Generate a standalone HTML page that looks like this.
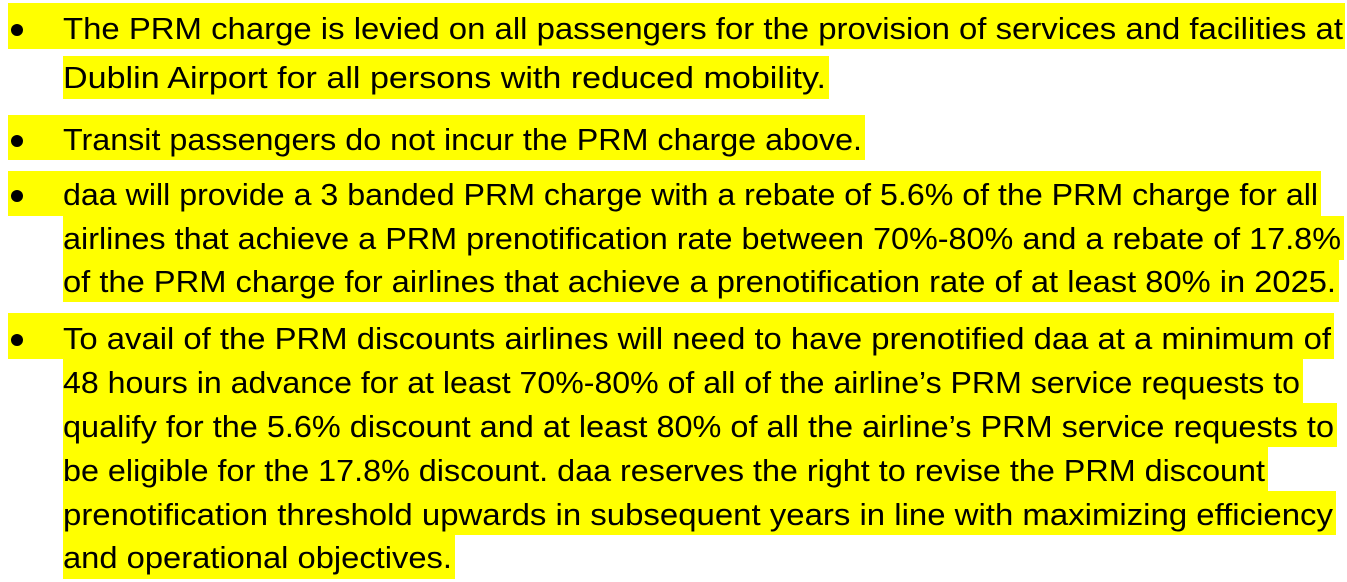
<!DOCTYPE html>
<html><head><meta charset="utf-8"><style>
html,body{margin:0;padding:0;background:#fff;width:1347px;height:582px;overflow:hidden}
text{font-family:"Liberation Sans",sans-serif;font-size:31px;fill:#000}
</style></head><body>
<svg width="1347" height="582" xmlns="http://www.w3.org/2000/svg">
<g fill="#ffff00">
<rect x="8" y="3" width="1337" height="46"/>
<rect x="63" y="56" width="766" height="43"/>
<rect x="8" y="115" width="857" height="45"/>
<rect x="8" y="171" width="1313" height="45"/>
<rect x="63" y="216" width="1281" height="44"/>
<rect x="63" y="260" width="1276" height="42"/>
<rect x="8" y="313" width="1326" height="46"/>
<rect x="63" y="359" width="1240" height="44"/>
<rect x="63" y="403" width="1274" height="44"/>
<rect x="63" y="447" width="1205" height="44"/>
<rect x="63" y="491" width="1273" height="44"/>
<rect x="63" y="535" width="392" height="44"/>
</g>
<g fill="#000">
<circle cx="17" cy="30" r="6"/>
<circle cx="17" cy="141" r="6"/>
<circle cx="17" cy="196" r="6"/>
<circle cx="17" cy="340" r="6"/>
</g>
<g>
<text x="63" y="39" textLength="1280" lengthAdjust="spacingAndGlyphs">The PRM charge is levied on all passengers for the provision of services and facilities at</text>
<text x="63" y="88" textLength="763" lengthAdjust="spacingAndGlyphs">Dublin Airport for all persons with reduced mobility.</text>
<text x="63" y="150" textLength="799" lengthAdjust="spacingAndGlyphs">Transit passengers do not incur the PRM charge above.</text>
<text x="63" y="205" textLength="1255" lengthAdjust="spacingAndGlyphs">daa will provide a 3 banded PRM charge with a rebate of 5.6% of the PRM charge for all</text>
<text x="63" y="249" textLength="1278" lengthAdjust="spacingAndGlyphs">airlines that achieve a PRM prenotification rate between 70%-80% and a rebate of 17.8%</text>
<text x="63" y="292" textLength="1273" lengthAdjust="spacingAndGlyphs">of the PRM charge for airlines that achieve a prenotification rate of at least 80% in 2025.</text>
<text x="63" y="349" textLength="1268" lengthAdjust="spacingAndGlyphs">To avail of the PRM discounts airlines will need to have prenotified daa at a minimum of</text>
<text x="63" y="393" textLength="1237" lengthAdjust="spacingAndGlyphs">48 hours in advance for at least 70%-80% of all of the airline’s PRM service requests to</text>
<text x="63" y="437" textLength="1271" lengthAdjust="spacingAndGlyphs">qualify for the 5.6% discount and at least 80% of all the airline’s PRM service requests  to</text>
<text x="63" y="481" textLength="1202" lengthAdjust="spacingAndGlyphs">be eligible for the 17.8% discount. daa reserves the right to revise the PRM discount</text>
<text x="63" y="525" textLength="1270" lengthAdjust="spacingAndGlyphs">prenotification threshold upwards in subsequent years in line with maximizing efficiency</text>
<text x="63" y="568" textLength="389" lengthAdjust="spacingAndGlyphs">and operational objectives.</text>
</g>
</svg>
</body></html>
